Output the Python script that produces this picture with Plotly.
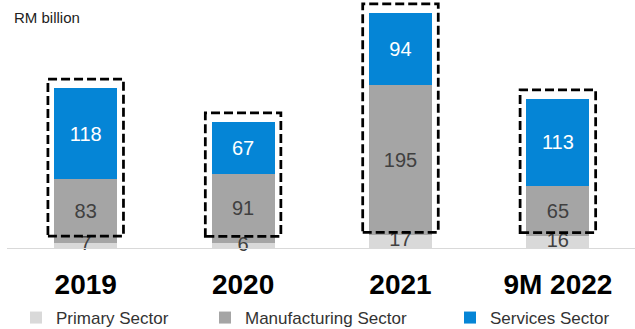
import plotly.graph_objects as go

categories = ["2019", "2020", "2021", "9M 2022"]
primary = [7, 6, 17, 16]
manufacturing = [83, 91, 195, 65]
services = [118, 67, 94, 113]

W, H = 635, 329
L, R, T, B = 7, 0, 0, 81
FONT = "Arial, Liberation Sans, sans-serif"

fig = go.Figure()
x_idx = list(range(len(categories)))

def add(name, vals, color, tcolor, legend, show_text=True):
    fig.add_trace(go.Bar(
        x=x_idx, y=vals, name=name, marker=dict(color=color, line=dict(width=0)),
        text=[str(v) for v in vals] if show_text else None,
        textposition="inside", insidetextanchor="middle",
        constraintext="none", cliponaxis=False,
        textfont=dict(family=FONT, size=20, color=tcolor),
        width=0.4, legend=legend, hoverinfo="skip"))

add("Primary Sector", primary, "#D9D9D9", "#404040", "legend", show_text=False)
add("Manufacturing Sector", manufacturing, "#A5A5A5", "#404040", "legend2")
add("Services Sector", services, "#0585D6", "#FFFFFF", "legend3")

# primary sector labels drawn on top of everything, centred on their segment
fig.add_trace(go.Scatter(
    x=x_idx, y=[p / 2 for p in primary], mode="text",
    text=[str(p) for p in primary], cliponaxis=False, showlegend=False,
    textfont=dict(family=FONT, size=20, color="#404040"), hoverinfo="skip"))

# dashed highlight boxes around manufacturing + services
for i in x_idx:
    top = primary[i] + manufacturing[i] + services[i]
    fig.add_shape(type="rect", xref="x", yref="y",
                  x0=i - 0.24, x1=i + 0.24,
                  y0=primary[i] / 2 + 12, y1=top + 12,
                  line=dict(color="#000000", width=2.75, dash="9px,4px"),
                  fillcolor="rgba(0,0,0,0)", layer="above")

fig.add_annotation(text="RM billion", xref="paper", yref="paper",
                   x=(12 - L) / (W - L - R), y=1 - 17 / (H - T - B),
                   xanchor="left", yanchor="middle", showarrow=False,
                   font=dict(family=FONT, size=15, color="#222222"))

def leg(px):
    return dict(orientation="h", xref="container", yref="container",
                x=px / W, y=1 - 318 / H, xanchor="left", yanchor="middle",
                font=dict(family=FONT, size=17, color="#333333"),
                bgcolor="rgba(0,0,0,0)", borderwidth=0)

fig.update_layout(
    width=W, height=H, margin=dict(l=L, r=R, t=T, b=B, autoexpand=False),
    barmode="stack", bargap=0.6,
    plot_bgcolor="white", paper_bgcolor="white",
    xaxis=dict(range=[-0.5, 3.49], tickmode="array", tickvals=x_idx, ticktext=categories,
               showline=True, linecolor="#D9D9D9", linewidth=1, showgrid=False,
               zeroline=False, ticks="", ticklabelstandoff=11, automargin=False,
               tickfont=dict(family=FONT, size=28, color="#000000", weight="bold")),
    yaxis=dict(range=[0, 323], visible=False, showgrid=False, zeroline=False,
               automargin=False),
    showlegend=True,
    legend=leg(16), legend2=leg(205), legend3=leg(450),
)

fig.write_html("out.html")
